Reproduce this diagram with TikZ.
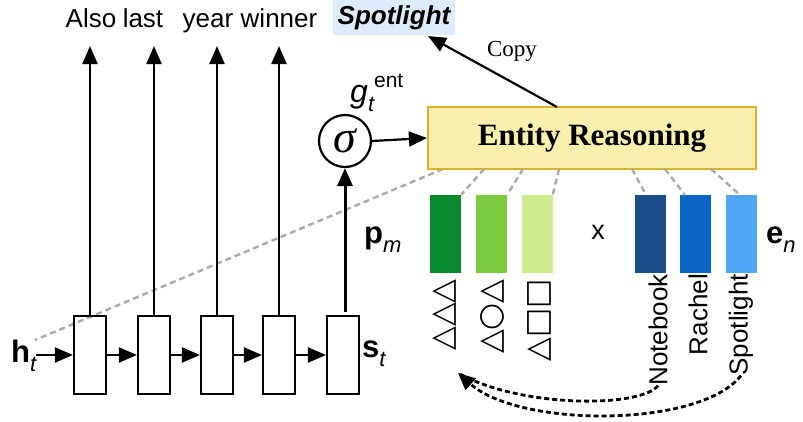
\documentclass[tikz,border=0pt]{standalone}
\usepackage{fontspec}
\setmainfont{Liberation Sans}
\newfontfamily\serifface{Liberation Serif}
\newfontfamily\symface{DejaVu Sans}
\usetikzlibrary{arrows.meta}

\definecolor{gA}{RGB}{10,138,46}
\definecolor{gB}{RGB}{125,203,64}
\definecolor{gC}{RGB}{206,234,142}
\definecolor{bA}{RGB}{26,78,138}
\definecolor{bB}{RGB}{10,102,194}
\definecolor{bC}{RGB}{79,166,245}
\definecolor{erfill}{RGB}{248,240,172}
\definecolor{erline}{RGB}{216,180,40}
\definecolor{hilite}{RGB}{221,235,250}
\definecolor{dashgray}{RGB}{170,170,170}

\newcommand\lowidx[2]{\raisebox{-0.3em}{\fontsize{#1}{#1}\selectfont\mdseries\itshape #2}}

\begin{document}
\begin{tikzpicture}[x=1pt,y=-1pt,
  cell/.style={draw,line width=2.2pt,minimum width=32pt,minimum height=78pt,inner sep=0pt},
  headed/.style={-{Stealth[inset=0pt,length=18pt,width=15pt]}},
  arr/.style={line width=2.2pt,headed},
  word/.style={font=\fontsize{26}{26}\selectfont,anchor=base,inner sep=0pt},
  gdash/.style={draw=dashgray,line width=2.4pt,dash pattern=on 6pt off 4pt},
  bar/.style={minimum width=31pt,minimum height=78pt,inner sep=0pt},
  vlabel/.style={rotate=90,anchor=east,inner sep=0pt,font=\fontsize{26}{26}\selectfont},
  slabel/.style={rotate=90,anchor=east,inner sep=0pt,font=\symface\fontsize{31}{31}\selectfont},
  sym/.style={inner sep=0pt,anchor=base west}
]
\useasboundingbox (0,0) rectangle (803,421);

% long dashed guide from the reasoning box back to the hidden state
\coordinate (gl1) at (443,169);
\coordinate (gl2) at (35,340);
\draw[gdash] (gl1) -- (gl2);

% recurrent cells
\node[cell] (c1) at (90,355) {};
\node[cell] (c2) at (154,355) {};
\node[cell] (c3) at (217,355) {};
\node[cell] (c4) at (279,355) {};
\node[cell] (c5) at (343,355) {};

\node[sym,font=\fontsize{31}{31}\selectfont] (ht) at (11,362) {\bfseries h\lowidx{22}{t}};
\node[sym,font=\fontsize{31}{31}\selectfont] (st) at (362,357) {\bfseries s\lowidx{22}{t}};

\draw[arr] (ht.east |- c1.west) -- (c1.west);
\draw[arr] (c1.east) -- (c2.west);
\draw[arr] (c2.east) -- (c3.west);
\draw[arr] (c3.east) -- (c4.west);
\draw[arr] (c4.east) -- (c5.west);

% output words
\node[word] (w1) at (91,27) {Also};
\node[word] (w2) at (143,27) {last};
\node[word] (w3) at (208,27) {year};
\node[word] (w4) at (279,27) {winner};
\node[fill=hilite,minimum width=122pt,minimum height=35pt,inner sep=0pt,
      font=\fontsize{26}{26}\selectfont\bfseries\itshape] (spot) at (394,17.5) {Spotlight};

\coordinate (t1) at (90,46);
\coordinate (t2) at (154,46);
\coordinate (t3) at (217,46);
\coordinate (t4) at (279,46);
\draw[arr] (c1.north) -- (t1);
\draw[arr] (c2.north) -- (t2);
\draw[arr] (c3.north) -- (t3);
\draw[arr] (c4.north) -- (t4);

% gate
\node[circle,draw,line width=2.2pt,minimum size=52pt,inner sep=0pt,
      font=\serifface\itshape\fontsize{46}{46}\selectfont] (sig) at (345,141) {\raisebox{-0.05em}{σ}};
\node[sym,font=\fontsize{32}{32}\selectfont] (gate) at (350,102)
  {\itshape g\lowidx{22}{t}\raisebox{0.45em}{\fontsize{21}{21}\selectfont\upshape ent}};
\coordinate (c5top) at (345,312);
\draw[line width=3pt,headed] (c5top) -- (sig.south);

% entity reasoning
\node[draw=erline,fill=erfill,line width=2.2pt,minimum width=328pt,minimum height=62pt,
      inner sep=0pt,font=\serifface\bfseries\fontsize{31}{31}\selectfont] (er) at (592,138) {Entity Reasoning};
\draw[arr] (sig.east) -- (er.west);

\coordinate (cp) at (557,107);
\coordinate (cpend) at (428,36);
\draw[arr] (cp) -- (cpend);
\node[inner sep=0pt,font=\serifface\fontsize{23}{23}\selectfont] (copy) at (512,51) {Copy};

% mention and entity vectors
\node[bar,fill=gA] (p1) at (445.5,234) {};
\node[bar,fill=gB] (p2) at (491.5,234) {};
\node[bar,fill=gC] (p3) at (537,234) {};
\node[bar,fill=bA] (e1) at (650,234) {};
\node[bar,fill=bB] (e2) at (695.5,234) {};
\node[bar,fill=bC] (e3) at (741,234) {};

\node[sym,font=\fontsize{31}{31}\selectfont] (pm) at (364,243) {\bfseries p\lowidx{22}{m}};
\node[inner sep=0pt,font=\fontsize{27}{27}\selectfont] (times) at (598,232) {x};
\node[sym,font=\fontsize{31}{31}\selectfont] (en) at (766,243) {\bfseries e\lowidx{22}{n}};

% dashed links from the reasoning box to each vector
\draw[gdash] (484,169) -- (p1.north east);
\draw[gdash] (523,169) -- (p2.north east);
\draw[gdash] (559,169) -- (p3.north east);
\draw[gdash] (632,169) -- (646,195);
\draw[gdash] (665,169) -- (685,195);
\draw[gdash] (711,169) -- (740,195);

% rotated labels
\node[slabel] (l1) at (444,279) {△△△};
\node[slabel] (l2) at (492,279) {△○△};
\node[slabel] (l3) at (539,279) {△□□};
\node[vlabel] (n1) at (658,274) {Notebook};
\node[vlabel] (n2) at (698,274) {Rachel};
\node[vlabel] (n3) at (741,274) {Spotlight};

% copy pointers from entities back to mentions
\coordinate (back) at (458,373);
\draw[line width=2.8pt,dash pattern=on 5pt off 3pt] (n1.west) .. controls (640,408) and (520,408) .. (back);
\draw[line width=2.8pt,dash pattern=on 5pt off 3pt,-{Stealth[inset=0pt,length=17pt,width=15pt]}]
  (n3.west) .. controls (700,428) and (520,428) .. (back);
\end{tikzpicture}
\end{document}
